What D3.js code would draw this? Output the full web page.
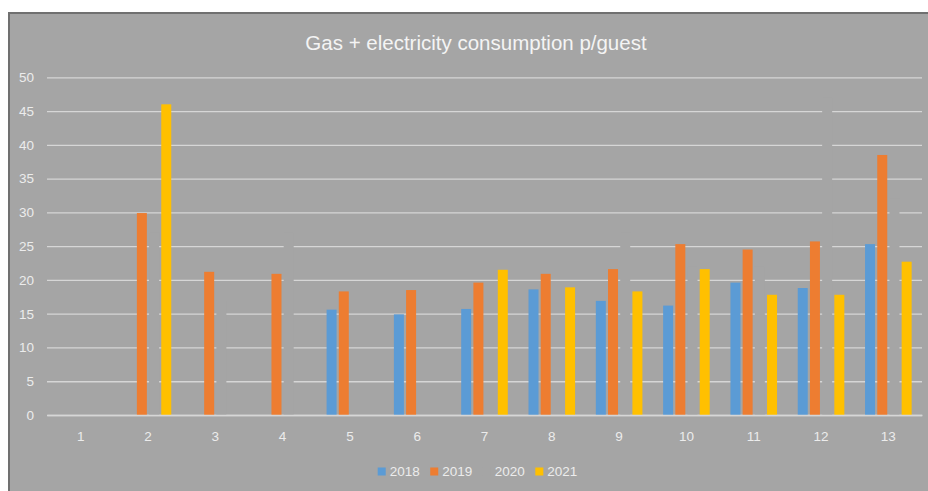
<!DOCTYPE html>
<html>
<head>
<meta charset="utf-8">
<script src="https://cdn.jsdelivr.net/npm/d3@7"></script>
<style>
    body { margin: 0; background: #ffffff; }
    svg { display: block; }
</style>
</head>
<body>
<svg id="chart"></svg>
<script>
// data
const categories = ['1','2','3','4','5','6','7','8','9','10','11','12','13'];
const years = ['2018','2019','2020','2021'];
const values2018 = [0, 0, 0, 0, 15.6, 14.9, 15.7, 18.6, 16.9, 16.2, 19.6, 18.8, 25.3];
const values2019 = [0, 29.9, 21.2, 20.9, 18.3, 18.5, 19.6, 20.9, 21.6, 25.3, 24.5, 25.7, 38.5];
// 2020 is drawn in the same grey as the background, only the gridline gaps show it
const values2020 = [0, 27, 17, 27, 0, 0, 0, 0, 27, 22, 22, 47, 32];
const values2021 = [0, 46.0, 0, 0, 0, 0, 21.5, 18.9, 18.3, 21.6, 17.8, 17.8, 22.7];
const yTicks = [0, 5, 10, 15, 20, 25, 30, 35, 40, 45, 50];

const seriesColors = {'2018': '#5b9bd5', '2019': '#ed7d31', '2020': '#a5a5a5', '2021': '#ffc000'};

class BarChart {
    constructor() {
        this.width = 928;
        this.height = 491;
        this.bg = '#a5a5a5';
        this.margin = {top: 77.3, left: 47, right: 6, bottom: 76};
        this.svg = d3.select('#chart')
            .attr('width', this.width)
            .attr('height', this.height);

        this.x = d3.scaleBand()
            .domain(categories)
            .range([this.margin.left, this.width - this.margin.right]);
        this.y = d3.scaleLinear()
            .domain([0, 50])
            .range([415, this.margin.top]);
        this.x1 = d3.scaleBand()
            .domain(years)
            .range([-23.3, 23.3])
            .paddingInner(0.18);

        this.rows = categories.map((c, i) => ({
            cat: c,
            vals: [values2018[i], values2019[i], values2020[i], values2021[i]]
        }));
    }

    draw() {
        // chart area + the frame (cropped off on right/bottom)
        this.svg.append('rect')
            .attr('x', 9).attr('y', 13)
            .attr('width', this.width + 20).attr('height', this.height + 20)
            .attr('fill', this.bg)
            .attr('stroke', '#707070')
            .attr('stroke-width', 2);

        this.svg.append('text')
            .attr('x', 476).attr('y', 50)
            .attr('text-anchor', 'middle')
            .attr('fill', '#f4f4f4')
            .style('font-family', 'Liberation Sans, Arial, sans-serif')
            .style('font-size', '20.5px')
            .text('Gas + electricity consumption p/guest');

        let yAxis = d3.axisLeft(this.y)
            .tickValues(yTicks)
            .tickSize(-(this.width - this.margin.right - this.margin.left))
            .tickPadding(13);
        let gy = this.svg.append('g')
            .attr('transform', `translate(${this.margin.left},0)`)
            .call(yAxis);
        gy.select('.domain').remove();
        gy.selectAll('line').attr('stroke', '#d6d6d6').attr('stroke-width', 1.3);
        gy.selectAll('text')
            .attr('fill', '#ececec')
            .style('font-family', 'Liberation Sans, Arial, sans-serif')
            .style('font-size', '13.5px');

        let groups = this.svg.append('g').selectAll('g')
            .data(this.rows)
            .join('g')
            .attr('transform', d => `translate(${this.x(d.cat) + this.x.bandwidth() / 2},0)`);
        groups.selectAll('rect')
            .data(d => d.vals.map((v, i) => ({year: years[i], value: v})))
            .join('rect')
            .attr('x', d => this.x1(d.year))
            .attr('width', this.x1.bandwidth())
            .attr('y', d => this.y(d.value))
            .attr('height', d => this.y(0) - this.y(d.value))
            .attr('fill', d => seriesColors[d.year]);

        let xAxis = d3.axisBottom(this.x).tickSize(0).tickPadding(16);
        let gx = this.svg.append('g')
            .attr('transform', `translate(0,${this.y(0)})`)
            .call(xAxis);
        gx.select('.domain').attr('stroke', '#d6d6d6').attr('stroke-width', 1.3);
        gx.selectAll('text')
            .attr('fill', '#ececec')
            .style('font-family', 'Liberation Sans, Arial, sans-serif')
            .style('font-size', '13.5px');

        this.drawLegend();
    }

    drawLegend() {
        const legendX = d3.scalePoint().domain(years).range([377.7, 535.3]);
        let items = this.svg.append('g').selectAll('g')
            .data(years)
            .join('g')
            .attr('transform', d => `translate(${legendX(d)},467.5)`);
        items.append('rect')
            .attr('width', 8).attr('height', 8)
            .attr('fill', d => seriesColors[d]);
        items.append('text')
            .attr('x', 12).attr('y', 8.5)
            .attr('fill', '#ececec')
            .style('font-family', 'Liberation Sans, Arial, sans-serif')
            .style('font-size', '13.5px')
            .text(d => d);
    }
}

new BarChart().draw();
</script>
</body>
</html>
